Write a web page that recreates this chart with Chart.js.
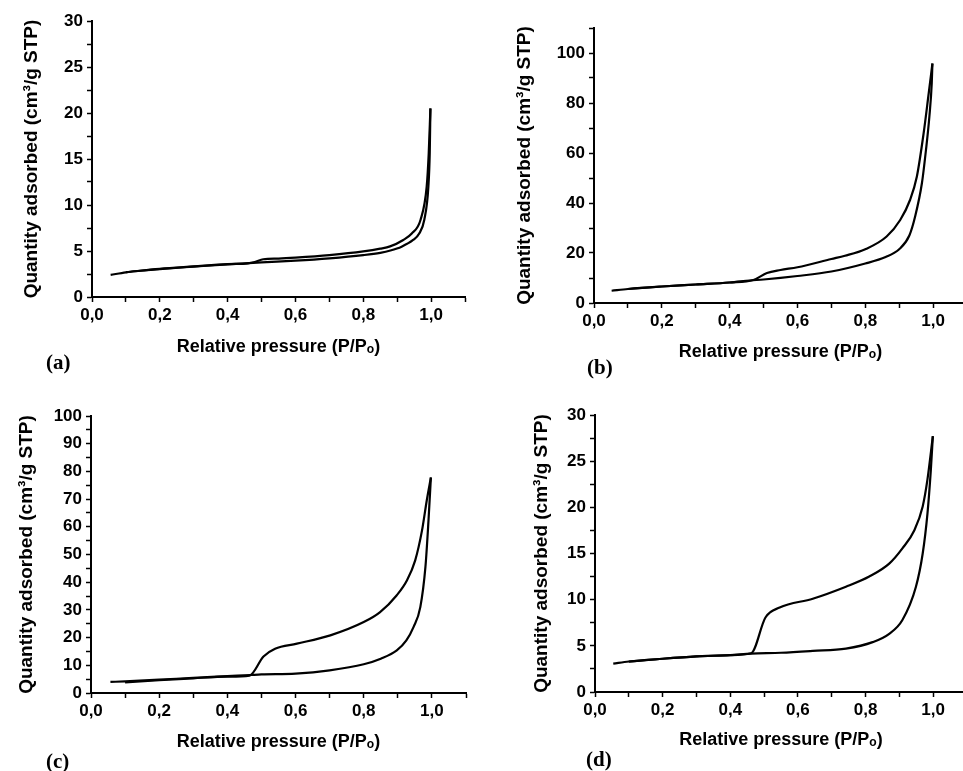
<!DOCTYPE html>
<html lang="en">
<head>
<meta charset="UTF-8">
<title>N2 adsorption-desorption isotherms (a)-(d)</title>
<script src="https://cdn.jsdelivr.net/npm/chart.js"></script>
<style>
    body {
        margin: 0;
        width: 963px;
        height: 771px;
        overflow: hidden;
        background: #fff;
        position: relative;
    }
    canvas {
        position: absolute;
    }
    .panel-label {
        position: absolute;
        font: bold 21px "Liberation Serif", "Times New Roman", serif;
        color: #000;
    }
</style>
</head>
<body>
<canvas id="chartA" width="480" height="380" style="left:0px;top:0px"></canvas>
<canvas id="chartB" width="490" height="380" style="left:480px;top:0px"></canvas>
<canvas id="chartC" width="480" height="391" style="left:0px;top:380px"></canvas>
<canvas id="chartD" width="490" height="391" style="left:480px;top:380px"></canvas>
<div class="panel-label" style="left:46px;top:350px">(a)</div>
<div class="panel-label" style="left:587px;top:355px">(b)</div>
<div class="panel-label" style="left:46px;top:749px">(c)</div>
<div class="panel-label" style="left:586px;top:747px">(d)</div>

<script>
    // axis ticks and titles (shared)
    const xTicks = [0, 0.1, 0.2, 0.3, 0.4, 0.5, 0.6, 0.7, 0.8, 0.9, 1.0, 1.1];
    const xTickLabels = ['0,0', '', '0,2', '', '0,4', '', '0,6', '', '0,8', '', '1,0', ''];
    const xTitle = 'Relative pressure (P/P\u2092)';
    const yTitle = 'Quantity adsorbed (cm\u00B3/g STP)';

    // (a)
    const adsXA = [0.055, 0.1, 0.15, 0.2, 0.3, 0.4, 0.5, 0.6, 0.7, 0.8, 0.85, 0.88, 0.913, 0.947, 0.965, 0.98, 0.992, 0.996, 0.998];
    const adsYA = [2.4, 2.68, 2.88, 3.04, 3.3, 3.55, 3.77, 3.95, 4.2, 4.55, 4.8, 5.05, 5.47, 6.2, 6.9, 8.4, 12.0, 15.6, 20.5];
    const desXA = [0.998, 0.993, 0.987, 0.969, 0.943, 0.918, 0.879, 0.85, 0.8, 0.7, 0.6, 0.55, 0.505, 0.48, 0.46, 0.4, 0.3, 0.2, 0.1];
    const desYA = [20.5, 15.6, 12.0, 8.4, 6.9, 6.2, 5.5, 5.25, 4.95, 4.55, 4.28, 4.18, 4.1, 3.8, 3.66, 3.57, 3.32, 3.06, 2.7];
    const yTicksA = [0, 2.5, 5, 7.5, 10, 12.5, 15, 17.5, 20, 22.5, 25, 27.5, 30];

    // (b)
    const adsXB = [0.052, 0.1, 0.2, 0.3, 0.4, 0.46, 0.5, 0.6, 0.7, 0.8, 0.86, 0.9, 0.93, 0.947, 0.967, 0.979, 0.989, 0.996, 0.998];
    const adsYB = [4.9, 5.6, 6.6, 7.4, 8.2, 9.0, 9.4, 10.8, 12.6, 15.8, 18.4, 21.5, 27, 34.6, 47.9, 61.2, 74.5, 87.8, 95.8];
    const desXB = [0.998, 0.987, 0.972, 0.952, 0.932, 0.903, 0.863, 0.8, 0.74, 0.7, 0.6, 0.55, 0.51, 0.47, 0.4, 0.3, 0.2, 0.1];
    const desYB = [95.8, 83.8, 67.8, 50.5, 41.2, 33.2, 26.6, 21.5, 18.9, 17.6, 14.3, 13.2, 12.0, 9.2, 8.2, 7.4, 6.6, 5.6];
    const yTicksB = [0, 10, 20, 30, 40, 50, 60, 70, 80, 90, 100, 110];

    // (c)
    const adsXC = [0.057, 0.1, 0.2, 0.3, 0.4, 0.467, 0.5, 0.6, 0.7, 0.8, 0.85, 0.897, 0.925, 0.946, 0.966, 0.981, 0.99, 0.997];
    const adsYC = [4.0, 4.2, 4.8, 5.5, 6.1, 6.5, 6.7, 7.0, 8.2, 10.4, 12.4, 15.4, 19, 23.8, 31.0, 45.5, 62.3, 77.8];
    const desXC = [0.997, 0.985, 0.971, 0.951, 0.927, 0.897, 0.848, 0.8, 0.702, 0.604, 0.54, 0.506, 0.465, 0.4, 0.3, 0.2, 0.1];
    const desYC = [77.8, 69.6, 58.7, 47.9, 40.7, 35.3, 29.2, 25.6, 20.8, 17.8, 16.0, 13.2, 6.3, 5.9, 5.3, 4.6, 3.8];
    const yTicksC = [0, 5, 10, 15, 20, 25, 30, 35, 40, 45, 50, 55, 60, 65, 70, 75, 80, 85, 90, 95, 100];

    // (d)
    const adsXD = [0.054, 0.1, 0.2, 0.3, 0.4, 0.462, 0.55, 0.644, 0.742, 0.821, 0.87, 0.909, 0.949, 0.969, 0.983, 0.993, 0.999];
    const adsYD = [3.07, 3.3, 3.6, 3.85, 4.0, 4.15, 4.25, 4.45, 4.7, 5.4, 6.3, 7.8, 11.4, 15.0, 19.3, 24.0, 27.7];
    const desXD = [0.999, 0.983, 0.969, 0.944, 0.909, 0.87, 0.811, 0.742, 0.644, 0.546, 0.504, 0.462, 0.4, 0.3, 0.2, 0.1];
    const desYD = [27.7, 23.0, 20.1, 17.5, 15.55, 13.9, 12.5, 11.4, 10.1, 9.15, 8.07, 4.2, 4.0, 3.85, 3.6, 3.3];
    const yTicksD = [0, 2.5, 5, 7.5, 10, 12.5, 15, 17.5, 20, 22.5, 25, 27.5, 30];

    const fontFamily = '"Liberation Sans", Arial, Helvetica, sans-serif';

    function toPoints(xs, ys) {
        return xs.map((x, i) => ({x: x, y: ys[i]}));
    }

    function isMultiple(v, step) {
        const r = v / step;
        return Math.abs(r - Math.round(r)) < 1e-6;
    }

    function makeIsotherm(canvasId, adsX, adsY, desX, desY, yTicks, yLabelStep, yLabelMax, box) {
        const curve = {
            borderColor: '#000',
            borderWidth: 2.2,
            pointRadius: 0,
            showLine: true,
            fill: false,
            cubicInterpolationMode: 'monotone'
        };
        const tickFont = {family: fontFamily, size: 17, weight: 'bold'};

        return new Chart(document.getElementById(canvasId), {
            type: 'scatter',
            data: {
                datasets: [
                    Object.assign({label: 'Adsorption', data: toPoints(adsX, adsY)}, curve),
                    Object.assign({label: 'Desorption', data: toPoints(desX, desY)}, curve)
                ]
            },
            options: {
                responsive: false,
                animation: false,
                devicePixelRatio: 1,
                layout: {padding: {left: box.left, top: box.top, right: box.right, bottom: box.bottom}},
                plugins: {legend: {display: false}, tooltip: {enabled: false}},
                scales: {
                    x: {
                        type: 'linear',
                        min: 0,
                        max: 1.1,
                        afterBuildTicks: s => { s.ticks = xTicks.map(v => ({value: v})); },
                        afterFit: s => { s.height = box.xAxis; },
                        border: {display: true, color: '#000', width: 2},
                        grid: {display: true, drawOnChartArea: false, drawTicks: true, tickLength: 5, tickColor: '#000', tickWidth: 1.5},
                        ticks: {
                            autoSkip: false, maxRotation: 0, padding: 3, color: '#000', font: tickFont,
                            callback: (v, i) => xTickLabels[i]
                        },
                        title: {display: true, text: xTitle, color: '#000', padding: 0,
                                font: {family: fontFamily, size: 18, weight: 'bold'}}
                    },
                    y: {
                        type: 'linear',
                        min: 0,
                        max: yTicks[yTicks.length - 1],
                        afterBuildTicks: s => { s.ticks = yTicks.map(v => ({value: v})); },
                        afterFit: s => { s.width = box.yAxis; },
                        border: {display: true, color: '#000', width: 2},
                        grid: {display: true, drawOnChartArea: false, drawTicks: true, tickLength: 5, tickColor: '#000', tickWidth: 1.5},
                        ticks: {
                            autoSkip: false, padding: 4, color: '#000', font: tickFont,
                            callback: v => (isMultiple(v, yLabelStep) && v <= yLabelMax) ? String(v) : ''
                        },
                        title: {display: true, text: yTitle, color: '#000', padding: 0,
                                font: {family: fontFamily, size: 19, weight: 'bold'}}
                    }
                }
            }
        });
    }

    makeIsotherm('chartA', adsXA, adsYA, desXA, desYA, yTicksA, 5, 30,
        {left: 20, top: 21, right: 15, bottom: 22, yAxis: 72, xAxis: 61});
    makeIsotherm('chartB', adsXB, adsYB, desXB, desYB, yTicksB, 20, 100,
        {left: 33, top: 28, right: 3, bottom: 17, yAxis: 81, xAxis: 60});
    makeIsotherm('chartC', adsXC, adsYC, desXC, desYC, yTicksC, 10, 100,
        {left: 15, top: 36, right: 14, bottom: 18, yAxis: 76, xAxis: 60});
    makeIsotherm('chartD', adsXD, adsYD, desXD, desYD, yTicksD, 5, 30,
        {left: 50, top: 35, right: 2, bottom: 20, yAxis: 65, xAxis: 59});
</script>
</body>
</html>
